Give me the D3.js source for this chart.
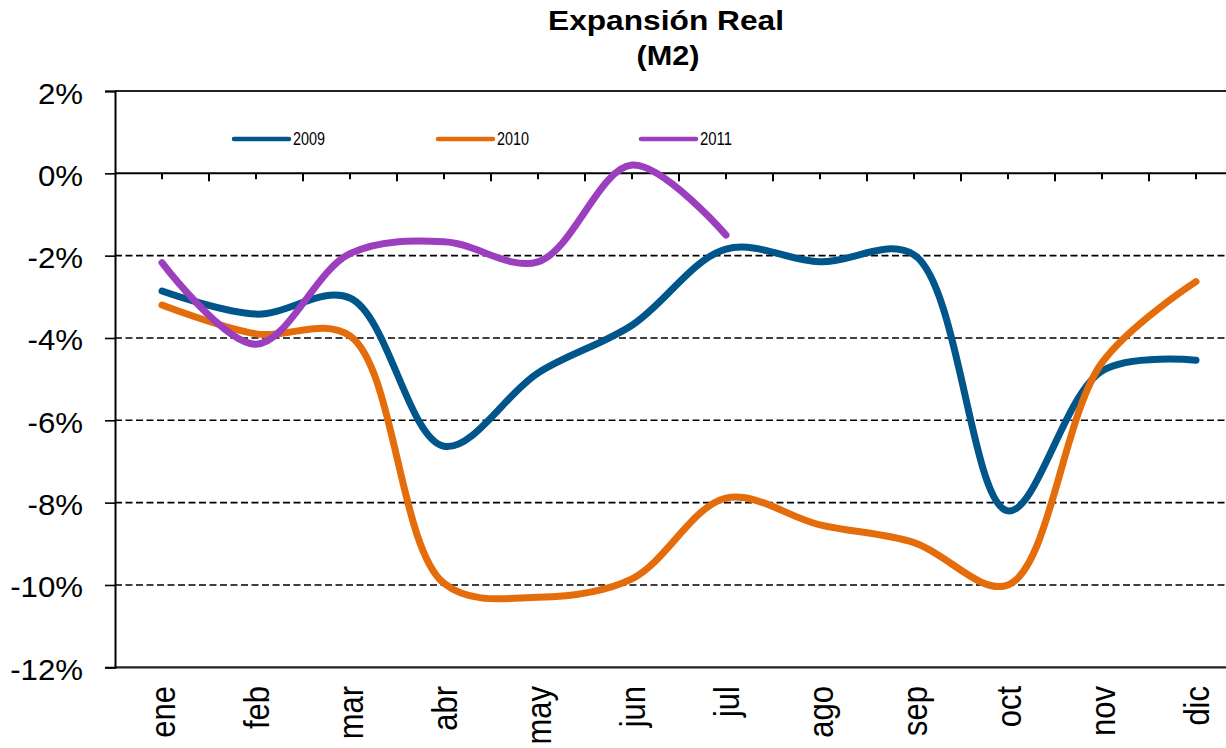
<!DOCTYPE html>
<html>
<head>
<meta charset="utf-8">
<script src="https://cdn.jsdelivr.net/npm/d3@7"></script>
<style>
  html, body { margin: 0; padding: 0; background: #fff; }
  svg { display: block; }
  text { font-family: "Liberation Sans", Arial, sans-serif; fill: #000; }
</style>
</head>
<body>
<svg id="chart" width="1226" height="748"></svg>
<script>
// ---- data ----
const months = ["ene","feb","mar","abr","may","jun","jul","ago","sep","oct","nov","dic"];
const s2009 = [-2.86, -3.42, -3.03, -6.63, -4.85, -3.69, -1.84, -2.15, -1.98, -8.2, -4.8, -4.54];
const s2010 = [-3.2, -3.9, -3.95, -9.96, -10.3, -9.85, -7.89, -8.54, -8.97, -10.0, -4.6, -2.63];
const s2011 = [-2.17, -4.15, -1.95, -1.66, -2.15, 0.2, -1.5];
const seriesNames = ["2009", "2010", "2011"];
const yTicks = [2, 0, -2, -4, -6, -8, -10, -12];
const titleLines = ["Expansión Real", "(M2)"];

const colors = { "2009": "#00558A", "2010": "#E46C0A", "2011": "#9B3FBE" };
const series = [
  { name: "2009", values: s2009 },
  { name: "2010", values: s2010 },
  { name: "2011", values: s2011 }
];

const svg = d3.select("#chart");

// ---- scales ----
const x0 = 115, band = 94;
const x = d3.scaleBand().domain(months).range([x0, x0 + band * months.length]).paddingInner(0).paddingOuter(0);
const xc = m => x(m) + x.bandwidth() / 2;
const y = d3.scaleLinear().domain([-12, 2]).range([667.3, 91]);

// ---- gridlines ----
const gridG = svg.append("g");
gridG.selectAll("line.grid")
  .data(yTicks.filter(v => v !== 0 && v !== 2 && v !== -12))
  .join("line")
  .attr("x1", x0).attr("x2", 1226)
  .attr("y1", d => y(d)).attr("y2", d => y(d))
  .attr("stroke", "#000").attr("stroke-width", 1.6)
  .attr("stroke-dasharray", "7,3.5");

// top and bottom borders (2% and -12%)
gridG.selectAll("line.border")
  .data([2, -12])
  .join("line")
  .attr("x1", x0).attr("x2", 1226)
  .attr("y1", d => y(d)).attr("y2", d => y(d))
  .attr("stroke", "#222").attr("stroke-width", 2.2);

// ---- y axis ----
const yAxis = d3.axisLeft(y).tickValues(yTicks).tickSize(10).tickFormat(d => d + "%");
const yG = svg.append("g").attr("transform", `translate(${x0},0)`).call(yAxis);
yG.select(".domain").attr("stroke", "#000").attr("stroke-width", 2);
yG.selectAll(".tick line").attr("stroke", "#000").attr("stroke-width", 1.6);
yG.selectAll(".tick text")
  .attr("x", 0).attr("dy", 0)
  .attr("font-size", 30)
  .attr("text-anchor", "end")
  .attr("fill", "#000")
  .attr("transform", "translate(-32,12) scale(1.04,1)");

// ---- x axis at 0% ----
const zeroY = y(0);
const xAxisG = svg.append("g");
xAxisG.append("line")
  .attr("x1", x0).attr("x2", 1226)
  .attr("y1", zeroY).attr("y2", zeroY)
  .attr("stroke", "#000").attr("stroke-width", 2);
// ticks at centres (short) and boundaries (long)
xAxisG.selectAll("line.ctick").data(months).join("line")
  .attr("x1", d => xc(d)).attr("x2", d => xc(d))
  .attr("y1", zeroY).attr("y2", zeroY + 6)
  .attr("stroke", "#000").attr("stroke-width", 2);
xAxisG.selectAll("line.btick").data(months.slice(1)).join("line")
  .attr("x1", d => x(d)).attr("x2", d => x(d))
  .attr("y1", zeroY).attr("y2", zeroY + 8)
  .attr("stroke", "#000").attr("stroke-width", 2);

// x labels (rotated) at the bottom
svg.append("g").selectAll("text").data(months).join("text")
  .attr("transform", d => `translate(${xc(d)},686) scale(1.15,1) rotate(-90)`)
  .attr("text-anchor", "end")
  .attr("dy", "0.36em")
  .attr("font-size", 31)
  .text(d => d);

// ---- lines ----
const line = d3.line()
  .x((d, i) => xc(months[i]))
  .y(d => y(d))
  .curve(d3.curveCatmullRom.alpha(0.5));

svg.append("g").selectAll("path").data(series).join("path")
  .attr("d", d => line(d.values))
  .attr("fill", "none")
  .attr("stroke", d => colors[d.name])
  .attr("stroke-width", 7)
  .attr("stroke-linecap", "round")
  .attr("stroke-linejoin", "round");

// ---- legend ----
const legendX = [234, 438, 641];
const legG = svg.append("g");
seriesNames.forEach((n, i) => {
  legG.append("line")
    .attr("x1", legendX[i]).attr("x2", legendX[i] + 55)
    .attr("y1", 139).attr("y2", 139)
    .attr("stroke", colors[n]).attr("stroke-width", 4.5)
    .attr("stroke-linecap", "round");
  legG.append("text")
    .attr("x", legendX[i] + 59).attr("y", 145)
    .attr("font-size", 18)
    .attr("textLength", 32).attr("lengthAdjust", "spacingAndGlyphs")
    .text(n);
});

// ---- title ----
svg.append("text")
  .attr("x", 666).attr("y", 30)
  .attr("text-anchor", "middle")
  .attr("font-size", 28).attr("font-weight", "bold")
  .attr("textLength", 236).attr("lengthAdjust", "spacingAndGlyphs")
  .text(titleLines[0]);
svg.append("text")
  .attr("x", 668).attr("y", 65)
  .attr("text-anchor", "middle")
  .attr("font-size", 28).attr("font-weight", "bold")
  .attr("textLength", 63).attr("lengthAdjust", "spacingAndGlyphs")
  .text(titleLines[1]);
</script>
</body>
</html>
